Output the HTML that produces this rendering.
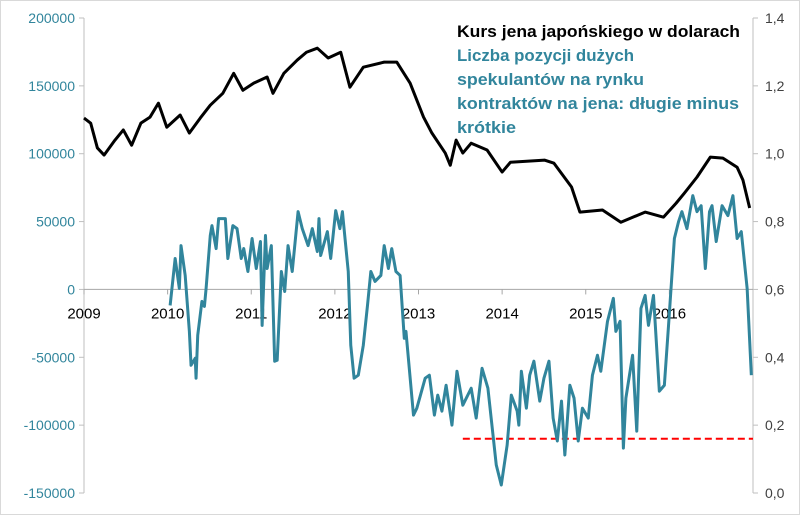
<!DOCTYPE html>
<html><head><meta charset="utf-8"><style>
html,body{margin:0;padding:0;background:#fff}
svg{display:block;font-family:"Liberation Sans",sans-serif}
</style></head><body>
<svg id="chart" width="800" height="515">
<rect x="0.5" y="0.5" width="799" height="514" fill="#fff" stroke="#d9d9d9"/>
<g id="axes"></g><g id="series"></g>
<g font-weight="bold" font-size="16.5">
<text x="457" y="37" fill="#000" textLength="283" lengthAdjust="spacingAndGlyphs">Kurs jena japońskiego  w dolarach</text>
<text x="457" y="61" fill="#31859c" textLength="177" lengthAdjust="spacingAndGlyphs">Liczba pozycji dużych</text>
<text x="457" y="85" fill="#31859c" textLength="187" lengthAdjust="spacingAndGlyphs">spekulantów na rynku</text>
<text x="457" y="109" fill="#31859c" textLength="282" lengthAdjust="spacingAndGlyphs">kontraktów na jena: długie minus</text>
<text x="457" y="133" fill="#31859c" textLength="59" lengthAdjust="spacingAndGlyphs">krótkie</text>
</g>
</svg>
<script>
const yearTicks=[2009,2010,2011,2012,2013,2014,2015,2016];
const leftTicks=[200000,150000,100000,50000,0,-50000,-100000,-150000];
const rightTicks=[1.4,1.2,1.0,0.8,0.6,0.4,0.2,0.0];
const rightTickLabels=["1,4","1,2","1,0","0,8","0,6","0,4","0,2","0,0"];
const yenDates=[2009.00,2009.08,2009.16,2009.24,2009.37,2009.47,2009.57,2009.68,2009.79,2009.89,2009.99,2010.15,2010.26,2010.39,2010.51,2010.66,2010.79,2010.90,2011.03,2011.19,2011.26,2011.39,2011.55,2011.66,2011.79,2011.92,2012.07,2012.18,2012.34,2012.59,2012.74,2012.90,2013.06,2013.16,2013.32,2013.38,2013.45,2013.53,2013.63,2013.82,2014.00,2014.10,2014.51,2014.62,2014.83,2014.93,2015.20,2015.42,2015.71,2015.93,2016.08,2016.18,2016.33,2016.49,2016.64,2016.81,2016.88,2016.96];
const yenValues=[1.105,1.09,1.017,0.996,1.04,1.07,1.025,1.09,1.108,1.149,1.078,1.114,1.061,1.105,1.143,1.178,1.237,1.187,1.208,1.226,1.178,1.237,1.276,1.299,1.311,1.282,1.299,1.196,1.255,1.27,1.27,1.208,1.108,1.061,1.002,0.966,1.04,1.002,1.031,1.011,0.946,0.975,0.981,0.972,0.902,0.828,0.834,0.798,0.828,0.813,0.854,0.884,0.931,0.99,0.987,0.96,0.922,0.84];
const posDates=[2010.03,2010.09,2010.14,2010.16,2010.21,2010.26,2010.28,2010.33,2010.34,2010.36,2010.41,2010.44,2010.46,2010.51,2010.53,2010.58,2010.61,2010.69,2010.72,2010.78,2010.83,2010.88,2010.91,2010.96,2011.01,2011.06,2011.11,2011.13,2011.17,2011.19,2011.24,2011.28,2011.31,2011.36,2011.40,2011.44,2011.49,2011.56,2011.61,2011.68,2011.73,2011.79,2011.81,2011.83,2011.91,2011.95,2012.01,2012.06,2012.09,2012.16,2012.19,2012.23,2012.28,2012.34,2012.39,2012.43,2012.48,2012.55,2012.59,2012.64,2012.68,2012.73,2012.78,2012.83,2012.85,2012.94,2012.98,2013.08,2013.13,2013.19,2013.23,2013.28,2013.33,2013.40,2013.46,2013.53,2013.63,2013.69,2013.76,2013.83,2013.93,2013.99,2014.06,2014.11,2014.18,2014.20,2014.23,2014.29,2014.33,2014.38,2014.45,2014.50,2014.56,2014.61,2014.66,2014.71,2014.75,2014.81,2014.86,2014.91,2014.96,2015.03,2015.08,2015.14,2015.18,2015.26,2015.33,2015.36,2015.41,2015.45,2015.48,2015.56,2015.61,2015.66,2015.71,2015.75,2015.81,2015.88,2015.94,2015.99,2016.06,2016.11,2016.15,2016.21,2016.28,2016.33,2016.38,2016.43,2016.48,2016.51,2016.56,2016.63,2016.70,2016.76,2016.81,2016.86,2016.93,2016.98];
const posValues=[-11800,22800,700,32300,10300,-30900,-55900,-50700,-65400,-33800,-8800,-12500,700,39700,47000,30100,52200,52200,22800,47000,44800,22800,30100,13200,37500,15400,35300,-26500,39700,15400,32300,-52900,-52200,13200,-1500,32300,13200,57300,44800,32300,44800,27900,52200,25000,42600,22800,58100,44800,57300,13200,-41100,-65400,-63200,-41100,-11800,13200,5900,10300,32300,15400,30100,13200,10300,-36000,-30900,-92600,-87500,-65400,-63200,-92600,-77900,-89700,-70600,-100000,-60300,-85300,-72800,-94800,-58100,-72800,-129400,-144100,-114700,-77900,-89700,-100000,-60300,-87500,-63200,-52900,-82300,-65400,-52900,-94800,-111700,-82300,-122000,-70600,-80100,-111700,-87500,-94800,-63200,-48500,-60300,-23500,-6600,-30900,-23500,-116900,-80100,-48500,-104400,-14000,-4400,-26500,-4400,-75000,-70600,-26500,37500,50000,57300,44800,69100,57300,61700,15400,57300,61700,35300,61700,54400,69100,37500,42600,700,-63200];
const thresholdValue=-110000;
const thresholdStart=2013.53;

const NS="http://www.w3.org/2000/svg";
const X0=84,X1=753,T0=2009,T1=2017;
const Y0=18,Y1=493;
const xs=t=>X0+(t-T0)/(T1-T0)*(X1-X0);
const yl=v=>Y1-(v+150000)/350000*(Y1-Y0);
const yr=v=>Y1-v/1.4*(Y1-Y0);
function mk(tag,attrs,parent){const e=document.createElementNS(NS,tag);for(const k in attrs)e.setAttribute(k,attrs[k]);parent.appendChild(e);return e;}
const ax=document.getElementById('axes'),se=document.getElementById('series');
let a=mk('line',{x1:X0,y1:Y0,x2:X0,y2:Y1,stroke:'#bfbfbf'},ax);


a=mk('line',{x1:X1,y1:Y0,x2:X1,y2:Y1,stroke:'#bfbfbf'},ax);


a=mk('line',{x1:X0,y1:yl(0),x2:X1,y2:yl(0),stroke:'#a6a6a6'},ax);


leftTicks.forEach(v=>{
  const y=yl(v);
  const tk=mk('line',{x1:X0-5,y1:y,x2:X0,y2:y,stroke:'#bfbfbf'},ax);
  
  
  const t=mk('text',{x:X0-9,y:y+5,'text-anchor':'end','font-size':14,fill:'#31859c'},ax);
  t.textContent=v;
  
  
});
rightTicks.forEach((v,i)=>{
  const y=yr(v);
  const tk=mk('line',{x1:X1,y1:y,x2:X1+5,y2:y,stroke:'#bfbfbf'},ax);
  
  
  const t=mk('text',{x:X1+12,y:y+5,'font-size':14,fill:'#404040'},ax);
  t.textContent=rightTickLabels[i];
  
  
});
yearTicks.forEach(yv=>{
  const x=xs(yv);
  const tk=mk('line',{x1:x,y1:yl(0),x2:x,y2:yl(0)+5,stroke:'#a6a6a6'},ax);
  
  
  const t=mk('text',{x:x,y:yl(0)+29,'text-anchor':'middle','font-size':15,fill:'#000'},ax);
  t.textContent=yv;
  
  
});
const th=mk('line',{x1:xs(thresholdStart),y1:yl(thresholdValue),x2:X1,y2:yl(thresholdValue),stroke:'#ff0000','stroke-width':2,'stroke-dasharray':'7,4'},se);


const pp=mk('polyline',{points:posDates.map((t,i)=>xs(t)+','+yl(posValues[i])).join(' '),fill:'none',stroke:'#31859c','stroke-width':3,'stroke-linejoin':'round'},se);


const yp=mk('polyline',{points:yenDates.map((t,i)=>xs(t)+','+yr(yenValues[i])).join(' '),fill:'none',stroke:'#000','stroke-width':3,'stroke-linejoin':'round'},se);


</script>
</body></html>
